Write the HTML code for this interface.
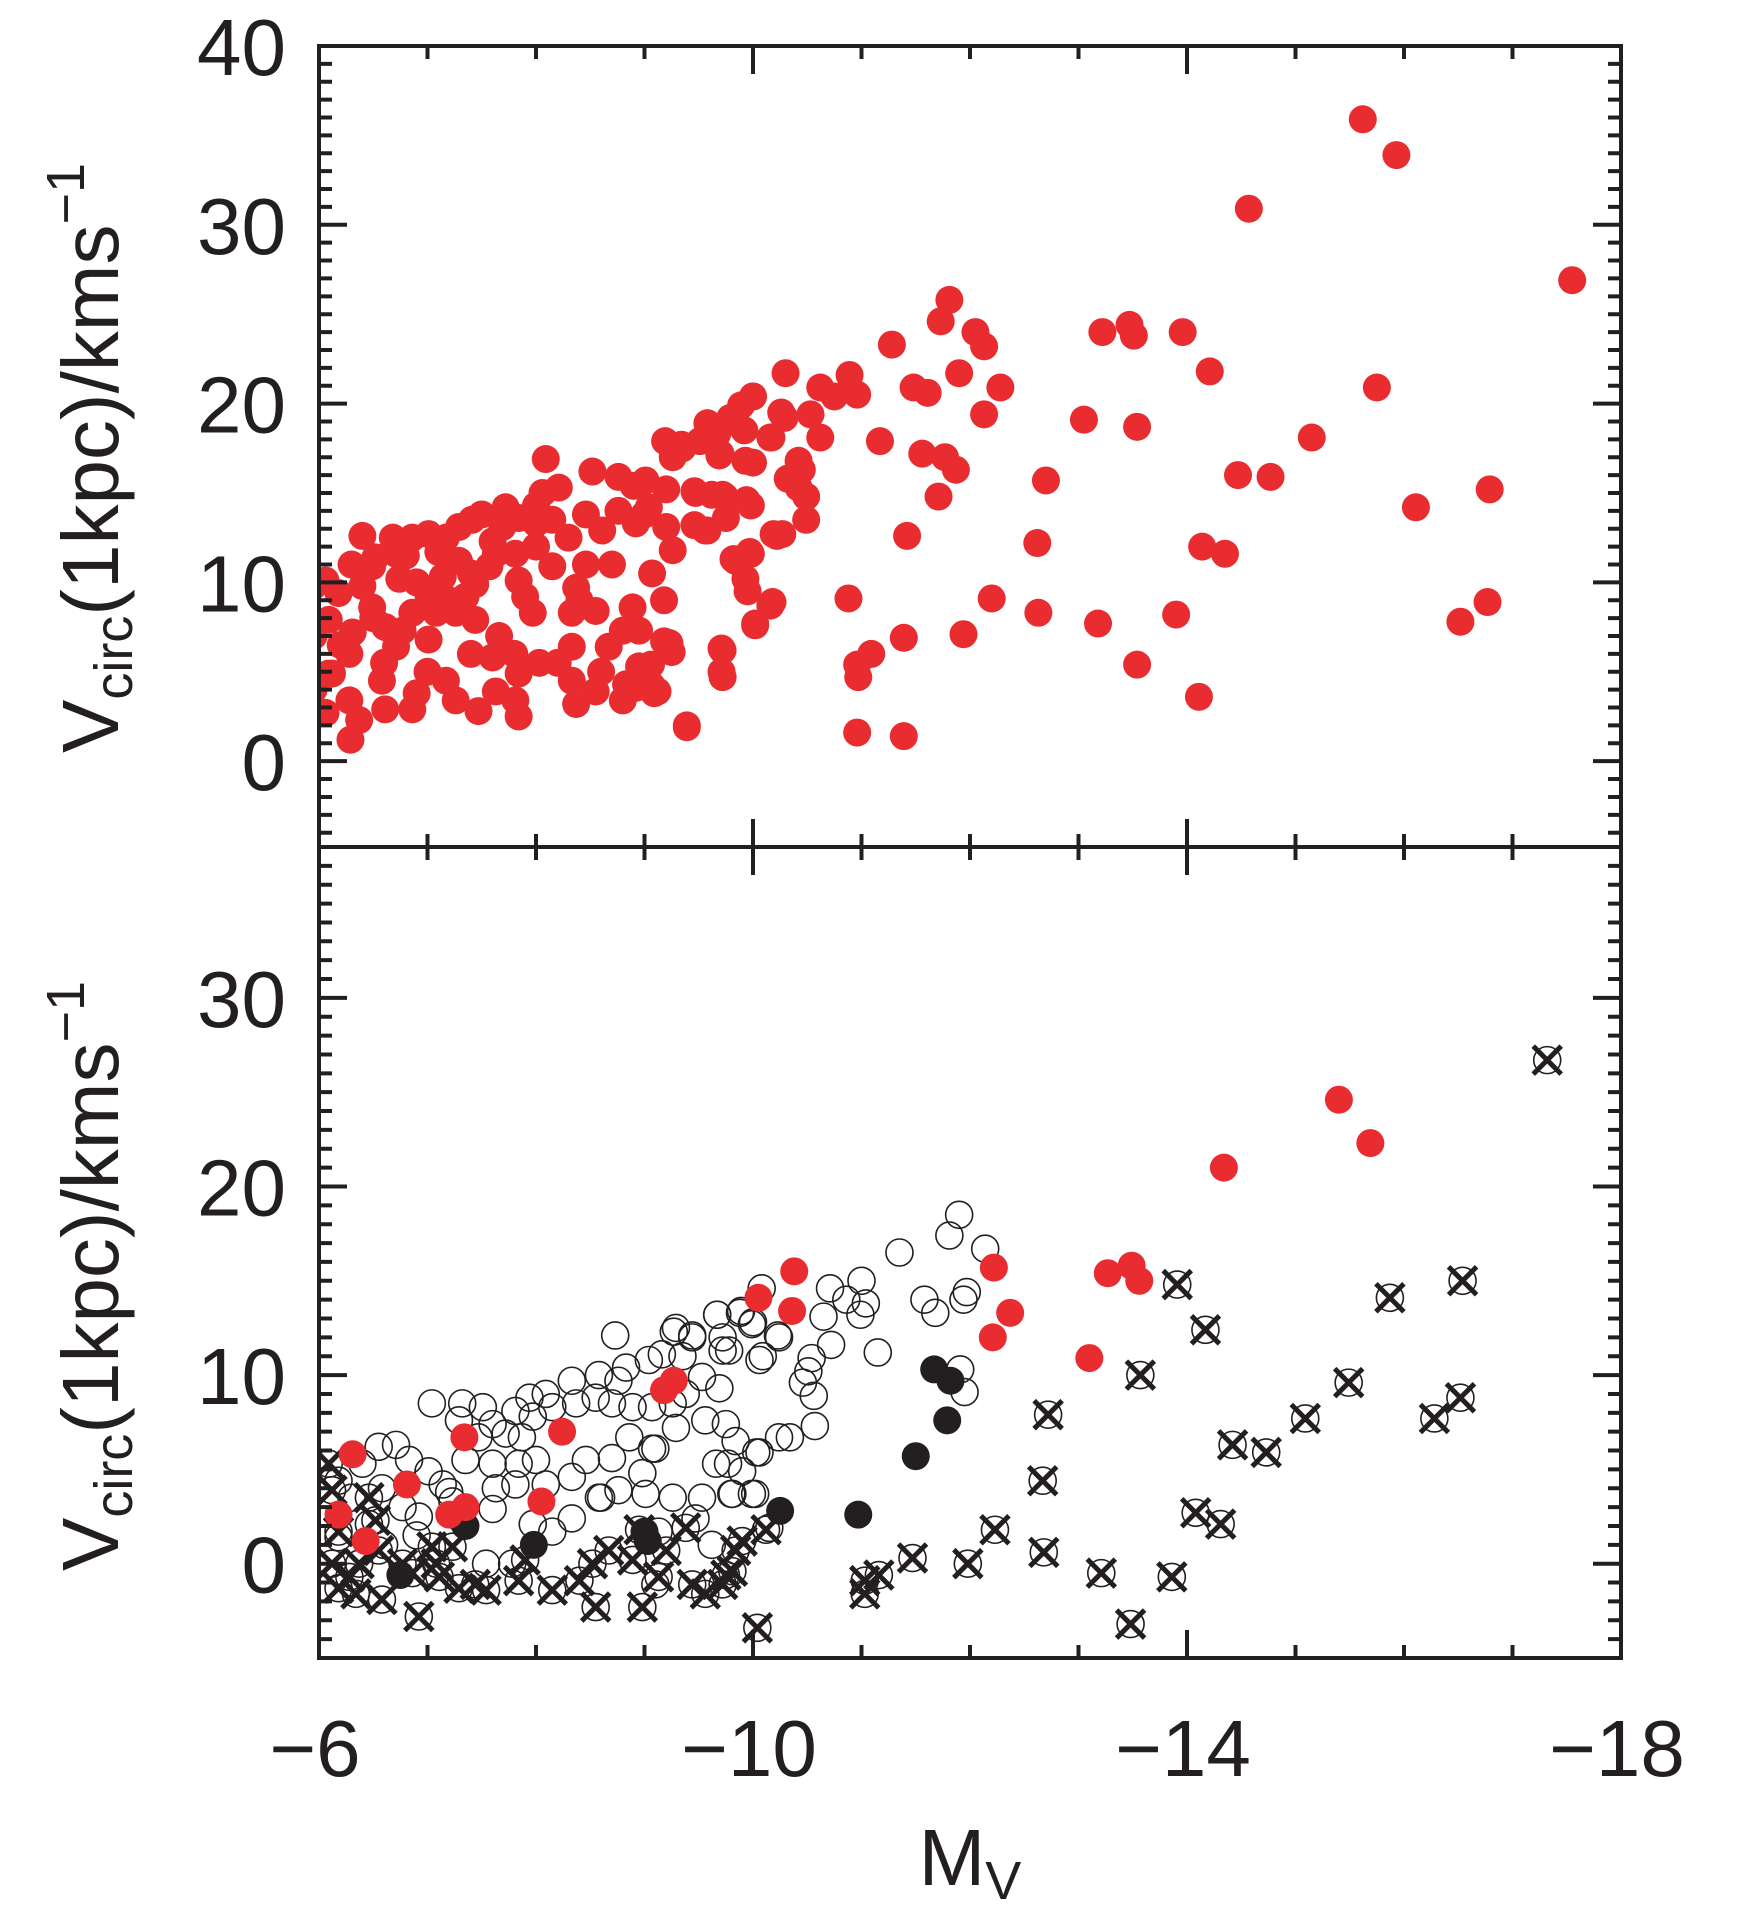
<!DOCTYPE html>
<html><head><meta charset="utf-8"><style>
html,body{margin:0;padding:0;background:#fff}
svg{display:block}
text{font-family:"Liberation Sans",sans-serif;fill:#231f20}
</style></head><body>
<svg id="chart" width="1741" height="1926" viewBox="0 0 1741 1926" xmlns="http://www.w3.org/2000/svg">
<defs>
<clipPath id="clipTop"><rect x="319" y="46" width="1302" height="801"/></clipPath>
<clipPath id="clipBot"><rect x="319" y="847" width="1302" height="811"/></clipPath>
</defs>
<g id="topMarks" clip-path="url(#clipTop)"></g>
<g id="botMarks" clip-path="url(#clipBot)"></g>
<g id="axes"></g>
<text transform="translate(118,458) rotate(-90)" text-anchor="middle" font-size="80">V<tspan font-size="54" dy="14">circ</tspan><tspan dy="-14">(1kpc)/kms</tspan><tspan font-size="54" dy="-34">−1</tspan></text>
<text transform="translate(118,1276) rotate(-90)" text-anchor="middle" font-size="80">V<tspan font-size="54" dy="14">circ</tspan><tspan dy="-14">(1kpc)/kms</tspan><tspan font-size="54" dy="-34">−1</tspan></text>
<text x="970" y="1885" text-anchor="middle" font-size="80">M<tspan font-size="54" dy="14">V</tspan></text>
</svg>
<script>
const topMv=[-15.62,-15.93,-14.57,-17.55,-11.81,-11.73,-11.28,-12.05,-12.13,-13.22,-13.47,-13.51,-13.96,-14.21,-15.75,-12.28,-12.13,-13.05,-13.54,-15.15,-12.70,-14.47,-14.77,-16.79,-16.11,-12.62,-14.14,-14.35,-11.42,-10.88,-12.20,-12.63,-13.90,-13.18,-11.94,-11.39,-16.77,-16.52,-13.54,-14.11,-11.09,-10.96,-10.97,-10.96,-11.39,-9.39,-11.17,-11.56,-11.77,-11.87,-11.71,-11.48,-11.61,-11.90,
-10.30,-10.89,-10.96,-10.62,-10.75,-10.53,-10.26,-10.0,-9.89,-9.79,-9.58,-9.51,-9.67,-9.34,-9.19,-9.26,-9.70,-9.93,-10.17,-10.42,-10.45,-10.42,-10.49,-10.62,-10.32,-9.94,-9.74,-9.62,-9.46,-9.75,-9.46,-9.58,-10.19,-10.27,-10.49,-9.97,-9.82,-9.93,-10.18,-10.02,-9.71,-9.71,-9.18,-9.25,-9.06,-9.12,-8.92,
-8.09,-10.0,-10.29,-9.58,-9.81,-9.92,-9.23,-9.35,-9.69,-10.0,-10.16,-10.36,-9.47,-9.72,-9.98,-9.56,-10.22,-9.98,-9.84,-9.95,-10.16,-10.02,-9.72,-9.72,-9.39,-9.07,-9.18,-8.89,-9.23,-8.95,-8.95,-8.83,-9.09,-8.55,-8.33,-8.37,-8.46,-7.97,-7.84,-7.81,-7.72,-8.06,-8.21,-8.52,-8.76,-9.01,-9.04,-9.20,-9.26,-8.76,-8.46,-8.15,-8.0,-7.63,-7.41,-7.29,-7.17,-7.29,-7.57,-7.44,-7.35,-7.44,-7.66,-7.60,-7.17,-7.26,-7.47,-7.63,-7.84,-7.81,-8.03,-7.84,-8.37,-8.33,-8.55,-8.80,-9.07,-8.67,-8.33,-7.01,-6.71,-6.77,-6.86,-7.01,-6.74,-6.71,-6.68,-6.86,-6.40,-6.40,-6.49,-6.18,-6.06,-6.09,-6.31,-6.61,-6.28,-6.09,-6.28,-6.58,-6.61,-6.86,-6.37,-6.29,-6.06,-6.49,-7.14,-7.08,-7.26,-8.15,-8.0,-8.61,-8.92,-7.69,-7.01,-7.84,-6.52,-6.12,-5.95,-5.95,-5.95,
-6.5,-6.9,-7.2,-6.6,-7.0,-7.4,-7.8,-8.2,-8.4,-8.7,-8.3,-7.6,-7.1,-6.3,-6.2,-6.9,-7.9,-8.8,-8.6,-9.0,-9.2,-8.9,-8.0,-7.5,-6.8,-7.4];
const topV=[35.9,33.9,30.9,26.9,25.8,24.6,23.3,24.0,23.2,24.0,24.4,23.8,24.0,21.8,20.9,20.9,19.4,19.1,18.7,18.1,15.7,16.0,15.9,15.2,14.2,12.2,12.0,11.6,12.6,9.1,9.1,8.3,8.2,7.7,7.1,6.9,8.9,7.8,5.4,3.6,6.0,5.4,4.7,1.6,1.4,2.0,17.9,17.2,17.0,16.3,14.8,20.9,20.6,21.7,
21.7,21.6,20.5,20.9,20.4,19.4,19.5,20.4,19.9,19.2,18.9,17.9,18.3,17.7,17.9,17.0,17.2,16.8,18.1,16.8,16.3,15.3,14.8,18.1,15.8,14.6,14.8,14.9,15.1,13.6,13.2,12.9,12.7,12.7,13.5,11.7,11.3,10.2,8.9,7.7,6.3,5.0,6.7,6.1,5.4,3.9,4.1,
16.9,20.4,19.2,18.9,19.2,18.5,17.7,17.5,17.1,16.7,18.1,15.7,15.0,14.9,14.3,12.9,12.6,11.6,11.2,9.5,8.7,7.6,6.2,4.7,1.9,10.5,9.0,8.6,6.6,7.3,5.3,4.3,3.8,8.4,8.3,9.7,11.0,8.3,10.1,11.6,14.2,15.0,15.3,16.2,15.9,15.7,14.2,13.1,11.8,14.0,13.8,13.5,12.0,11.6,13.5,13.1,12.5,11.2,10.9,9.9,9.2,7.9,7.0,5.8,4.5,3.4,2.8,3.9,2.5,3.4,5.5,4.9,3.2,4.5,3.9,3.4,4.2,6.4,6.4,6.8,6.4,7.3,8.3,9.2,10.2,11.6,12.5,12.5,12.6,9.8,8.6,9.4,10.1,7.9,7.2,7.5,6.0,4.9,3.4,4.5,2.9,2.9,2.3,1.2,2.7,10.9,10.3,8.3,8.3,10.9,13.3,12.9,13.3,13.1,12.7,13.6,11.4,4.9,9.8,7.0,4.0,
8.0,10.0,9.0,5.5,5.0,6.0,6.0,5.5,9.0,11.0,12.5,12.3,11.7,11.0,6.5,3.8,9.2,7.3,5.0,13.8,15.2,15.4,14.3,13.8,11.5,10.5];
const openMv=[-7.04,-8.73,-7.32,-7.51,-7.29,-7.60,-7.81,-7.94,-8.09,-8.33,-8.58,-8.76,-8.83,-9.04,-9.29,-9.44,-9.67,-9.89,-9.99,-9.72,-9.78,-10.09,-10.24,-9.16,-9.35,-9.53,-9.69,-9.38,-9.26,-9.07,-8.89,-8.70,-8.55,-8.37,-8.15,-7.97,-7.87,-7.72,-7.47,-7.35,-7.60,-7.84,-8.0,-7.81,-7.63,-8.09,-8.33,-8.46,-8.70,-8.86,-9.07,-9.29,-9.56,-9.75,-9.84,-10.06,-10.24,-9.66,-9.90,-9.53,-9.81,-9.99,-9.26,-9.01,-8.76,-8.58,-9.10,-8.33,-8.15,-7.78,-7.97,-7.60,-7.23,-7.01,-7.14,-6.83,-6.71,-6.55,-6.40,-6.18,-6.58,-6.77,-6.92,-6.18,-6.46,-7.54,-7.32,-10.15,-9.47,-9.13,-9.62,
-11.90,-11.81,-12.14,-11.35,-11.0,-10.71,-10.86,-11.04,-10.99,-10.65,-11.58,-11.68,-11.97,-11.94,-11.15,-10.72,-10.54,-10.51,-10.46,-10.56,-10.57,-10.34,-11.91,-11.95,-10.08,-10.0,-10.23,-10.06,-9.88,-9.67,-9.72,-9.27,-9.44,-10.03,-9.77,-10.02,-9.80,-9.10,-8.98,-8.60,
-6.3,-6.6,-6.9,-7.2];
const openV=[8.5,12.1,8.5,8.3,7.6,7.4,8.1,8.8,9.0,9.7,10.0,9.7,10.4,10.8,12.5,12.0,13.2,13.4,12.7,12.0,11.3,11.0,12.0,11.1,11.0,9.9,9.3,9.0,8.5,8.3,8.3,8.5,8.8,8.5,8.3,7.8,6.7,6.9,6.7,5.5,5.3,5.3,5.5,4.2,4.0,4.2,4.6,5.5,5.6,6.7,6.1,7.2,7.6,7.4,6.5,5.9,6.7,5.3,4.9,3.5,3.7,3.7,3.5,3.7,3.9,3.5,-1.1,2.4,1.7,0.0,2.1,2.9,3.3,4.9,4.2,5.5,6.3,6.2,5.3,4.4,4.0,3.0,2.5,1.4,2.1,0.0,2.3,1.9,2.4,1.7,1.0,
18.5,17.4,16.7,16.5,15.0,14.6,14.0,13.8,13.2,13.1,14.0,13.3,14.4,14.0,11.2,11.6,10.9,10.2,9.6,8.9,7.3,6.7,10.3,9.1,14.6,12.8,12.1,10.8,13.3,13.2,11.3,12.3,12.1,5.9,5.3,3.7,3.7,6.1,4.8,3.5,
3.5,1.0,1.5,3.8];
const redMv=[-10.38,-10.05,-10.36,-12.22,-12.37,-12.21,-13.27,-13.10,-13.49,-13.56,-14.34,-15.40,-15.69,-9.27,-9.18,-6.31,-6.81,-6.18,-6.43,-7.20,-7.35,-7.34,-8.24,-8.05];
const redV=[15.5,14.1,13.4,15.7,13.3,12.0,15.4,10.9,15.8,15.0,21.0,24.6,22.3,9.7,9.2,5.8,4.2,2.6,1.2,2.6,3.0,6.7,7.0,3.3];
const blackMv=[-11.67,-11.82,-11.79,-11.50,-10.97,-10.25,-7.35,-7.98,-6.75,-9.03,-9.0];
const blackV=[10.3,9.7,7.6,5.7,2.6,2.8,2.0,1.0,-0.6,1.2,1.7];
const crossMv=[-17.32,-13.91,-14.17,-15.87,-16.54,-13.57,-12.72,-12.67,-15.49,-15.09,-14.42,-14.73,-16.28,-16.52,-14.08,-14.31,-12.23,-12.68,-11.98,-11.47,-11.16,-11.03,-11.03,-13.21,-13.86,-13.48,-10.04,
-6.09,-6.12,-6.46,-6.18,-6.52,-6.12,-6.28,-6.34,-6.58,-6.18,-6.77,-6.92,-7.04,-7.11,-7.29,-7.44,-7.54,-7.23,-6.86,-7.08,-7.84,-8.15,-7.90,-8.40,-8.55,-8.52,-8.67,-8.89,-8.98,-8.95,-9.20,-9.13,-9.38,-9.44,-9.56,-9.72,-9.84,-9.81,-9.90,-10.12,-9.75,-6.55,-6.37];
const crossV=[26.7,14.8,12.4,14.1,15.0,10.0,7.9,4.4,9.6,7.7,6.3,5.9,7.7,8.8,2.7,2.1,1.8,0.6,0.0,0.3,-0.6,-0.9,-1.6,-0.5,-0.7,-3.2,-3.4,
5.3,3.9,3.5,1.7,2.3,0.0,-0.7,-1.6,-1.9,-1.3,0.0,-2.8,0.9,-0.7,-1.3,-1.1,-1.4,0.9,-0.5,0.0,-0.9,-1.4,0.2,-0.9,-2.3,0.0,0.7,0.2,-2.3,1.8,0.7,-0.7,1.9,-1.1,-1.6,-1.1,0.7,-0.4,1.2,1.8,-0.6,0.7,0.0];
const xTicks=[-6,-10,-14,-18];
const topYTicks=[0,10,20,30,40];
const botYTicks=[0,10,20,30];

const NS='http://www.w3.org/2000/svg';
const L=319,R=1621,TT=46,TB=847,BT=847,BB=1658;
const xs=v=>L+(v-(-6))/(-18-(-6))*(R-L);
const yTop=v=>TB-(v-(-4.8))/(40-(-4.8))*(TB-TT);
const yBot=v=>BB-(v-(-5))/(38-(-5))*(BB-BT);
const RED='#e82c30',INK='#231f20';
function mk(tag,attrs,parent){const e=document.createElementNS(NS,tag);for(const k in attrs)e.setAttribute(k,attrs[k]);parent.appendChild(e);return e;}
const gT=document.getElementById('topMarks'),gB=document.getElementById('botMarks'),gA=document.getElementById('axes');
topMv.forEach((m,i)=>{const c=mk('circle',{cx:xs(m),cy:yTop(topV[i]),r:14,fill:RED},gT);

});
openMv.forEach((m,i)=>{const c=mk('circle',{cx:xs(m),cy:yBot(openV[i]),r:13.5,fill:'none',stroke:INK,'stroke-width':1.6},gB);

});
crossMv.forEach((m,i)=>{const x=xs(m),y=yBot(crossV[i]);
const g=mk('g',{},gB);


mk('circle',{cx:x,cy:y,r:13.5,fill:'none',stroke:INK,'stroke-width':1.6},g);
mk('path',{d:`M${x-14} ${y-14}L${x+14} ${y+14}M${x-14} ${y+14}L${x+14} ${y-14}`,stroke:INK,'stroke-width':5,fill:'none'},g);});
blackMv.forEach((m,i)=>{const c=mk('circle',{cx:xs(m),cy:yBot(blackV[i]),r:14,fill:INK},gB);

});
redMv.forEach((m,i)=>{const c=mk('circle',{cx:xs(m),cy:yBot(redV[i]),r:14,fill:RED},gB);

});
[[TT,TB],[BT,BB]].forEach(([t,b])=>{const r=mk('rect',{x:L,y:t,width:R-L,height:b-t,fill:'none',stroke:INK,'stroke-width':4},gA);

});
let d='';
for(let v=-6;v>=-18;v--){const x=xs(v);const maj=(v+6)%4===0;const len=maj?28:13;
[[TT,1],[TB,-1],[BT,1],[BB,-1]].forEach(([y,s])=>{d+=`M${x} ${y}L${x} ${y+s*len}`;});}
for(let v=-4;v<=40;v++){const y=yTop(v);const len=v%10===0?28:13;d+=`M${L} ${y}L${L+len} ${y}M${R} ${y}L${R-len} ${y}`;}
for(let v=-5;v<=37;v++){const y=yBot(v);const len=v%10===0?28:13;d+=`M${L} ${y}L${L+len} ${y}M${R} ${y}L${R-len} ${y}`;}
const tp=mk('path',{d:d,stroke:INK,'stroke-width':4,fill:'none'},gA);


topYTicks.forEach(v=>{const t=mk('text',{x:286,y:yTop(v)+29,'text-anchor':'end','font-size':80},gA);t.textContent=String(v);

});
botYTicks.forEach(v=>{const t=mk('text',{x:286,y:yBot(v)+29,'text-anchor':'end','font-size':80},gA);t.textContent=String(v);

});
xTicks.forEach(v=>{const t=mk('text',{x:xs(v)-4,y:1776,'text-anchor':'middle','font-size':80},gA);t.textContent='\u2212'+String(-v);

});
</script>
</body></html>
